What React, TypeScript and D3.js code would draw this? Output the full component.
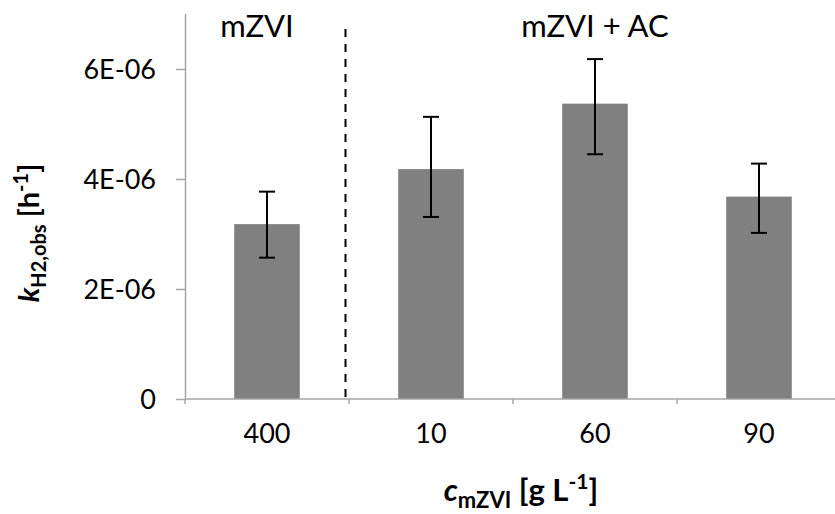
import React from 'react';
import * as d3 from 'd3';

const categories = ['400', '10', '60', '90'];
const kValues = [3.18e-6, 4.18e-6, 5.37e-6, 3.68e-6];
const errLow = [2.57e-6, 3.31e-6, 4.45e-6, 3.02e-6];
const errHigh = [3.77e-6, 5.13e-6, 6.18e-6, 4.28e-6];
const yTicks = [0, 2e-6, 4e-6, 6e-6];
const groupLabels = ['mZVI', 'mZVI + AC'];

const width = 835;
const height = 514;
const margin = { top: 14, right: -6, bottom: 115, left: 185 };
const FONT = 'Lato, "Open Sans", sans-serif';

const useD3 = (renderChartFn, dependencies) => {
	const ref = React.useRef(null);
	React.useEffect(() => {
		renderChartFn(d3.select(ref.current));
		return () => {};
	}, dependencies);
	return ref;
};

function Chart() {
	const ref = useD3((svg) => {
		svg.selectAll('*').remove();
		const data = categories.map((c, i) => ({ c, v: kValues[i], lo: errLow[i], hi: errHigh[i] }));

		const x = d3
			.scaleBand()
			.domain(categories)
			.range([margin.left, width - margin.right])
			.paddingInner(0.6)
			.paddingOuter(0.3);

		const y = d3
			.scaleLinear()
			.domain([0, 7e-6])
			.range([height - margin.bottom, margin.top]);

		const axisColor = '#a6a6a6';
		const fmt = (d) => (d === 0 ? '0' : `${Math.round(d / 1e-6)}E-06`);

		// bars
		svg
			.append('g')
			.selectAll('rect')
			.data(data)
			.join('rect')
			.attr('x', (d) => x(d.c))
			.attr('width', x.bandwidth())
			.attr('y', (d) => y(d.v))
			.attr('height', (d) => y(0) - y(d.v))
			.attr('fill', '#808080');

		// y axis
		const yAxis = svg
			.append('g')
			.attr('transform', `translate(${margin.left},0)`)
			.call(d3.axisLeft(y).tickValues(yTicks).tickFormat(fmt).tickSize(9).tickSizeOuter(0));
		yAxis.select('.domain').attr('stroke', axisColor).attr('stroke-width', 1.5).attr('d', `M0.5,${margin.top}V${y(0)}`);
		yAxis.selectAll('.tick line').attr('stroke', axisColor).attr('stroke-width', 1.5);
		yAxis
			.selectAll('.tick text')
			.attr('x', -29)
			.attr('dy', '0.35em')
			.attr('fill', '#000')
			.style('font-family', FONT)
			.style('font-size', '27px');

		// x axis
		const boundaries = [margin.left, ...categories.map((c) => x(c) + x.bandwidth() + (x.step() - x.bandwidth()) / 2)];
		const xAxis = svg.append('g').attr('transform', `translate(0,${y(0)})`);
		xAxis
			.append('line')
			.attr('x1', margin.left)
			.attr('x2', width - margin.right)
			.attr('stroke', axisColor)
			.attr('stroke-width', 1.5);
		xAxis
			.selectAll('.xt')
			.data(boundaries)
			.join('line')
			.attr('class', 'xt')
			.attr('x1', (d) => d)
			.attr('x2', (d) => d)
			.attr('y1', 0)
			.attr('y2', 5)
			.attr('stroke', axisColor)
			.attr('stroke-width', 1.5);
		xAxis
			.selectAll('text')
			.data(categories)
			.join('text')
			.attr('x', (d) => x(d) + x.bandwidth() / 2)
			.attr('y', 44)
			.attr('text-anchor', 'middle')
			.style('font-family', FONT)
			.style('font-size', '27px')
			.text((d) => d);

		// error bars
		const eb = svg.append('g').attr('stroke', '#000').attr('stroke-width', 2);
		data.forEach((d) => {
			const cx = x(d.c) + x.bandwidth() / 2;
			eb.append('line').attr('x1', cx).attr('x2', cx).attr('y1', y(d.hi)).attr('y2', y(d.lo));
			eb.append('line').attr('x1', cx - 8).attr('x2', cx + 8).attr('y1', y(d.hi)).attr('y2', y(d.hi));
			eb.append('line').attr('x1', cx - 8).attr('x2', cx + 8).attr('y1', y(d.lo)).attr('y2', y(d.lo));
		});

		// dashed separator
		const sepX = boundaries[1] - 3.5;
		svg
			.append('line')
			.attr('x1', sepX)
			.attr('x2', sepX)
			.attr('y1', 29)
			.attr('y2', y(0))
			.attr('stroke', '#000')
			.attr('stroke-width', 2)
			.attr('stroke-dasharray', '8,7');

		// group labels
		svg
			.append('text')
			.attr('x', x(categories[0]) + x.bandwidth() / 2 - 10)
			.attr('y', 37)
			.attr('text-anchor', 'middle')
			.style('font-family', FONT)
			.style('font-size', '31px')
			.text(groupLabels[0]);
		svg
			.append('text')
			.attr('x', x(categories[2]) + x.bandwidth() / 2)
			.attr('y', 37)
			.attr('text-anchor', 'middle')
			.style('font-family', FONT)
			.style('font-size', '31px')
			.text(groupLabels[1]);

		// y title
		const yt = svg
			.append('text')
			.attr('transform', `translate(39,233) rotate(-90)`)
			.attr('text-anchor', 'middle')
			.style('font-family', FONT)
			.style('font-size', '29px')
			.style('font-weight', 'bold');
		yt.append('tspan').style('font-style', 'italic').text('k');
		yt.append('tspan').attr('dy', 7).style('font-size', '20px').text('H2,obs');
		yt.append('tspan').attr('dy', -7).text(' [h');
		yt.append('tspan').attr('dy', -11).style('font-size', '20px').text('-1');
		yt.append('tspan').attr('dy', 11).text(']');

		// x title
		const xt = svg
			.append('text')
			.attr('x', 521)
			.attr('y', 501)
			.attr('text-anchor', 'middle')
			.style('font-family', FONT)
			.style('font-size', '31px')
			.style('font-weight', 'bold');
		xt.append('tspan').style('font-style', 'italic').text('c');
		xt.append('tspan').attr('dy', 7).style('font-size', '22px').text('mZVI');
		xt.append('tspan').attr('dy', -7).text(' [g L');
		xt.append('tspan').attr('dy', -12).style('font-size', '21px').text('-1');
		xt.append('tspan').attr('dy', 12).text(']');
	}, []);

	return (
		<svg
			ref={ref}
			width={width}
			height={height}
			style={{ position: 'absolute', left: 0, top: 0, background: '#fff' }}
		/>
	);
}

export default function App() {
	return <Chart />;
}
